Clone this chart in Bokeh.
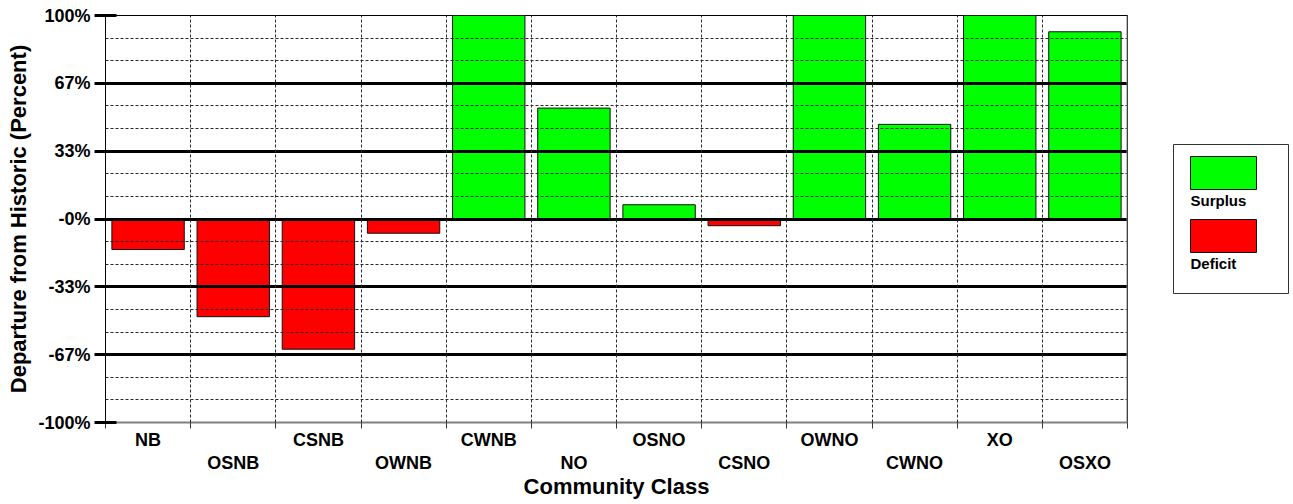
from bokeh.plotting import figure
from bokeh.models import Range1d, LinearAxis, FixedTicker, Grid, Span
from bokeh.layouts import row
from bokeh.embed import file_html
from bokeh.resources import INLINE
from bokeh.core.properties import value

# ---------------- data ----------------
categories = ["NB", "OSNB", "CSNB", "OWNB", "CWNB", "NO",
              "OSNO", "CSNO", "OWNO", "CWNO", "XO", "OSXO"]
departure = [-15, -48, -64, -7, 100, 54.5, 7, -3.3, 100, 46.5, 100, 92]

y_ticks = [-100, -66.67, -33.33, 0, 33.33, 66.67, 100]
y_tick_labels = ["-100%", "-67%", "-33%", "-0%", "33%", "67%", "100%"]
minor_grid = [-88.89, -77.78, -55.56, -44.44, -22.22, -11.11,
              11.11, 22.22, 44.44, 55.56, 77.78, 88.89]

series_names = ["Surplus", "Deficit"]
series_colors = ["#00FF00", "#FF0000"]

FONT = "Liberation Sans"
BORDER_TOP = 15
BORDER_BOTTOM = 82
HEIGHT = 504

# ---------------- main figure ----------------
xs = list(range(1, len(categories) + 1))
fills = [series_colors[0] if v >= 0 else series_colors[1] for v in departure]

p = figure(width=1135, height=HEIGHT,
           x_range=Range1d(0.5, len(categories) + 0.5),
           y_range=Range1d(-100, 100),
           x_axis_type=None, y_axis_type=None,
           toolbar_location=None, output_backend="svg",
           min_border_left=105, min_border_right=8,
           min_border_top=BORDER_TOP, min_border_bottom=BORDER_BOTTOM,
           outline_line_color="black", outline_line_width=1,
           background_fill_color="white", border_fill_color="white")

p.vbar(x=xs, top=departure, bottom=0, width=0.85,
       fill_color=fills, line_color="#111111", line_width=1)

boundaries = [i + 0.5 for i in range(0, len(categories) + 1)]
inner_bounds = boundaries[1:-1]

# grids (drawn above bars)
hgrid = Grid(dimension=1, ticker=FixedTicker(ticks=[t for t in y_ticks if abs(t) < 100],
                                             minor_ticks=minor_grid),
             grid_line_color="black", grid_line_width=3,
             minor_grid_line_color="#2a2a2a", minor_grid_line_width=1,
             minor_grid_line_dash="3 2", level="annotation")
vgrid = Grid(dimension=0, ticker=FixedTicker(ticks=inner_bounds),
             grid_line_color="#2a2a2a", grid_line_width=1,
             grid_line_dash="3 2", level="annotation")
p.add_layout(hgrid, "center")
p.add_layout(vgrid, "center")

p.add_layout(Span(location=len(categories) + 0.5, dimension="height",
                  line_color="#808080", line_width=2))

# y axis
yaxis = LinearAxis(ticker=FixedTicker(ticks=y_ticks),
                   major_label_overrides=dict(zip(y_ticks, y_tick_labels)),
                   axis_label="Departure from Historic (Percent)",
                   axis_line_color="black", axis_line_width=1,
                   major_tick_line_color="black", major_tick_line_width=3,
                   major_tick_in=11, major_tick_out=11,
                   minor_tick_line_color=None,
                   major_label_standoff=4, axis_label_standoff=4)
yaxis.major_label_text_font = FONT
yaxis.major_label_text_font_style = "bold"
yaxis.major_label_text_font_size = "18px"
yaxis.major_label_text_color = "black"
yaxis.axis_label_text_font = FONT
yaxis.axis_label_text_font_style = "bold"
yaxis.axis_label_text_font_size = "22px"
yaxis.axis_label_text_color = "black"
p.add_layout(yaxis, "left")

# x axis, first row of labels
even_pos = xs[0::2]
odd_pos = xs[1::2]
xaxis1 = LinearAxis(ticker=FixedTicker(ticks=even_pos, minor_ticks=boundaries),
                    major_label_overrides={x: categories[x - 1] for x in even_pos},
                    axis_line_color="#808080", axis_line_width=2,
                    major_tick_line_color=None, major_tick_in=0, major_tick_out=0,
                    minor_tick_line_color="#3a3a3a", minor_tick_line_width=1,
                    minor_tick_in=0, minor_tick_out=6,
                    major_label_standoff=1)
xaxis1.major_label_text_font = FONT
xaxis1.major_label_text_font_style = "bold"
xaxis1.major_label_text_font_size = "18px"
xaxis1.major_label_text_color = "black"
p.add_layout(xaxis1, "below")

# x axis, second row of labels + title
xaxis2 = LinearAxis(ticker=FixedTicker(ticks=odd_pos),
                    major_label_overrides={x: categories[x - 1] for x in odd_pos},
                    axis_label="Community Class",
                    axis_line_color=None,
                    major_tick_line_color=None, major_tick_in=0, major_tick_out=0,
                    minor_tick_line_color=None,
                    major_label_standoff=0, axis_label_standoff=-2)
xaxis2.major_label_text_font = FONT
xaxis2.major_label_text_font_style = "bold"
xaxis2.major_label_text_font_size = "18px"
xaxis2.major_label_text_color = "black"
xaxis2.axis_label_text_font = FONT
xaxis2.axis_label_text_font_style = "bold"
xaxis2.axis_label_text_font_size = "22px"
xaxis2.axis_label_text_color = "black"
p.add_layout(xaxis2, "below")

# ---------------- legend figure (same vertical frame as main plot) ----------------
# coordinates: x = pixels from legend figure's left edge, y = pixels above plot bottom
leg = figure(width=156, height=HEIGHT,
             x_range=Range1d(0, 156), y_range=Range1d(0, 407),
             x_axis_type=None, y_axis_type=None,
             toolbar_location=None, output_backend="svg",
             min_border_left=0, min_border_right=0,
             min_border_top=BORDER_TOP, min_border_bottom=BORDER_BOTTOM,
             outline_line_color=None,
             background_fill_color="white", border_fill_color="white")
leg.grid.visible = False

leg.quad(left=[38], right=[153], bottom=[129], top=[278],
         fill_color="white", line_color="#333333", line_width=1)
leg.quad(left=[55, 55], right=[121, 121], bottom=[233, 170], top=[266, 203],
         fill_color=series_colors, line_color="#111111", line_width=1)
leg.text(x=[55, 55], y=[222, 159], text=series_names,
         text_font=value(FONT), text_font_style="bold",
         text_font_size="15px", text_color="black",
         text_baseline="alphabetic", text_align="left")

layout = row(p, leg)

open("out.html", "w").write(file_html(layout, INLINE))
